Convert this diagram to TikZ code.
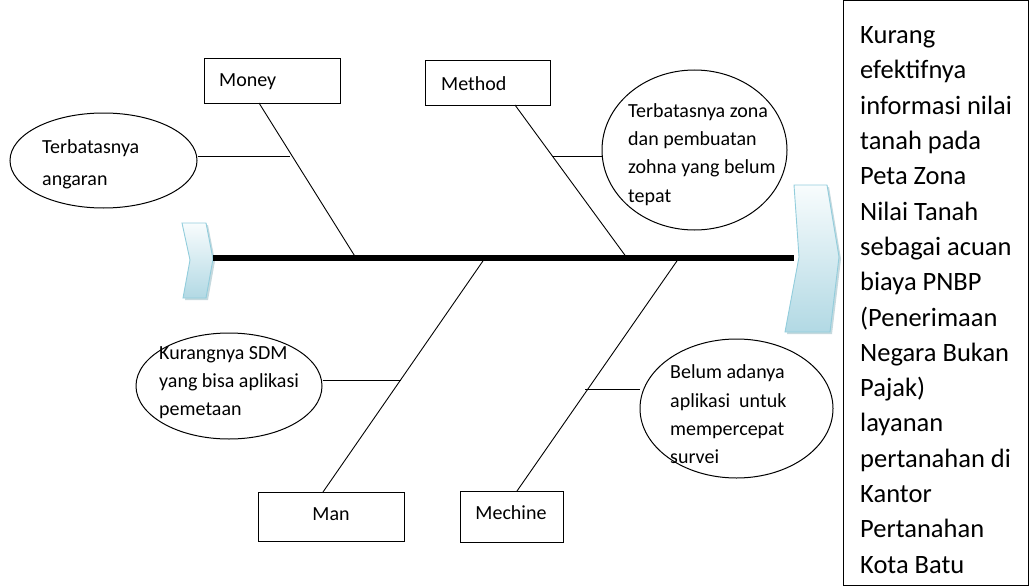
\documentclass[tikz,border=0pt]{standalone}
\usepackage{fontspec}
\setmainfont{Carlito}
\usetikzlibrary{shapes.geometric,calc}
\definecolor{chevtop}{HTML}{F8FCFD}
\definecolor{chevbot}{HTML}{B2D9E4}
\definecolor{chevline}{HTML}{92CDDC}
\definecolor{chevshadow}{HTML}{9FBFC8}
\tikzset{
  bone/.style={line width=0.9pt},
  spine/.style={line width=6.5pt},
  catbox/.style={draw, line width=1pt, inner sep=0pt},
  cause/.style={draw, ellipse, line width=1pt, inner sep=0pt},
  txt/.style={font=\fontsize{20}{28}\selectfont, align=left, inner sep=0pt, anchor=west},
  chev/.style={draw=chevline, line width=0.9pt, top color=chevtop, bottom color=chevbot},
  chevsh/.style={fill=chevshadow, opacity=0.6}
}
\begin{document}
\begin{tikzpicture}[x=1pt,y=-1pt]
\useasboundingbox (0,0) rectangle (1030,586);

% chevrons
\fill[chevsh] (184,225) -- (208,225) -- (215,261) -- (208,300) -- (185,300) -- (192,262) -- cycle;
\draw[chev] (182,223) -- (206,223) -- (213,259) -- (206,298) -- (183,298) -- (190,260) -- cycle;
\fill[chevsh] (796,187) -- (829,187) -- (841,259) -- (832,334) -- (787,334) -- (801,259) -- cycle;
\draw[chev] (794,185) -- (827,185) -- (839,257) -- (830,332) -- (785,332) -- (799,257) -- cycle;

% spine
\coordinate (spL) at (213,258);
\coordinate (spR) at (794,258);
\draw[spine] (spL) -- (spR);

% category boxes
\node[catbox, minimum width=136pt, minimum height=44pt] (money) at (272,81) {};
\node[txt] (moneyT) at (219,82) {Money};
\node[catbox, minimum width=125pt, minimum height=44pt] (method) at (487.5,83) {};
\node[txt] (methodT) at (441,84) {Method};
\node[catbox, minimum width=146pt, minimum height=49pt] (man) at (331,516.5) {};
\node[txt, anchor=center] (manT) at (331,514) {Man};
\node[catbox, minimum width=103pt, minimum height=51pt] (mech) at (511.5,516.5) {};
\node[txt, anchor=center] (mechT) at (511,513) {Mechine};

% bone coordinates
\coordinate (bMoneyTop) at (259,103);
\coordinate (bMoneyBot) at (356,258);
\coordinate (bMethodTop) at (515,105);
\coordinate (bMethodBot) at (627,258);
\coordinate (bManTop) at (485,258);
\coordinate (bManBot) at (323,492);
\coordinate (bMechTop) at (679,258);
\coordinate (bMechBot) at (517,491);
\draw[bone] (bMoneyTop) -- (bMoneyBot);
\draw[bone] (bMethodTop) -- (bMethodBot);
\draw[bone] (bManTop) -- (bManBot);
\draw[bone] (bMechTop) -- (bMechBot);

% cause ellipses
\node[cause, minimum width=187pt, minimum height=95pt] (e1) at (103.5,160.5) {};
\node[cause, minimum width=185pt, minimum height=160pt] (e2) at (694.5,150) {};
\node[cause, minimum width=186pt, minimum height=106pt] (e3) at (229,386) {};
\node[cause, minimum width=193pt, minimum height=139pt] (e4) at (736.5,408.5) {};

% sub-lines
\coordinate (s1) at (290,156);
\coordinate (s2) at (552,156);
\coordinate (s3) at (401,380);
\coordinate (s4) at (585,389);
\draw[bone] (e1.east |- s1) -- (s1);
\draw[bone] (s2) -- (e2.west |- s2);
\draw[bone] (e3.east |- s3) -- (s3);
\draw[bone] (s4) -- (e4.west |- s4);

% cause texts
\node[txt, font=\fontsize{20}{32}\selectfont] (t1) at (42,164) {Terbatasnya\\angaran};
\node[txt, font=\fontsize{20}{28.3}\selectfont] (t2) at (628,154.5) {Terbatasnya zona\\dan pembuatan\\zohna yang belum\\tepat};
\node[txt] (t3) at (159,383) {Kurangnya SDM\\yang bisa aplikasi\\pemetaan};
\node[txt, font=\fontsize{20}{28.4}\selectfont] (t4) at (670,414.5) {Belum adanya\\aplikasi\ \ untuk\\mempercepat\\survei};

% effect box
\node[catbox, minimum width=185pt, minimum height=584pt] (effect) at (936,293) {};
\node[txt, font=\fontsize{26.5}{35.3}\selectfont] (effectT) at (860,300) {Kurang\\efektifnya\\informasi nilai\\tanah pada\\Peta Zona\\Nilai Tanah\\sebagai acuan\\biaya PNBP\\(Penerimaan\\Negara Bukan\\Pajak)\\layanan\\pertanahan di\\Kantor\\Pertanahan\\Kota Batu};
\end{tikzpicture}
\end{document}
